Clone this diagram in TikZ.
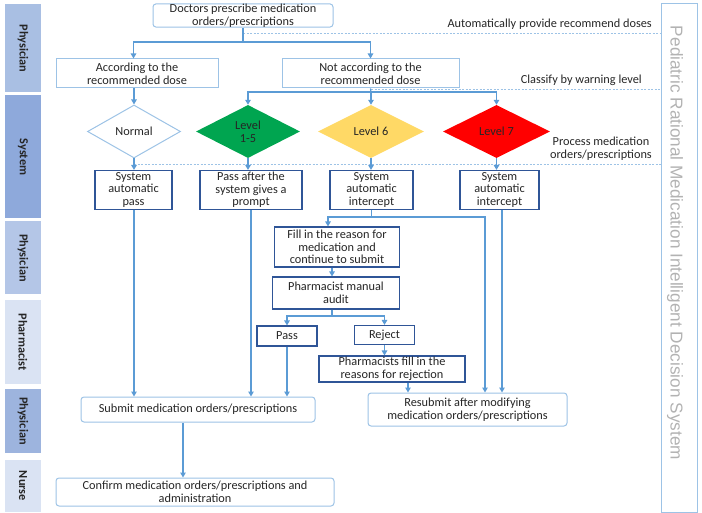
\documentclass[tikz,border=0pt]{standalone}
\usepackage{fontspec}
\setmainfont{Carlito}
\newfontfamily\titlefont{Liberation Sans}
\usetikzlibrary{shapes.geometric,arrows.meta,calc}
\definecolor{lblue}{HTML}{9DC3E6}
\definecolor{abl}{HTML}{5B9BD5}
\definecolor{dblue}{HTML}{2F5597}
\definecolor{laneA}{HTML}{A9BFE3}
\definecolor{laneB}{HTML}{8EA9DB}
\definecolor{laneC}{HTML}{B4C6E7}
\definecolor{laneD}{HTML}{DAE3F3}
\definecolor{laneE}{HTML}{9DB4DE}
\definecolor{lgreen}{HTML}{00A550}
\definecolor{lyellow}{HTML}{FFD966}
\definecolor{lred}{HTML}{FF0000}
\tikzset{
  txt/.style={font=\fontsize{12.3}{12.6}\selectfont, text=black!85},
  lane/.style={fill=#1, draw=none, minimum width=36pt, inner sep=0pt, font=\fontsize{12.3}{13}\selectfont\bfseries, text=black!85},
  softbox/.style={txt, draw=lblue, line width=1pt, rounded corners=3pt, fill=white, align=center, inner sep=0pt},
  lbox/.style={txt, draw=lblue, line width=1pt, fill=white, align=center, inner sep=0pt},
  dbox/.style={txt, draw=dblue, line width=1.1pt, fill=white, align=center, inner sep=0pt},
  dia/.style={txt, diamond, inner sep=0pt, align=center},
  arr/.style={draw=abl, line width=1.2pt, -{Triangle[length=5pt,width=5.5pt]}},
  ln/.style={draw=abl, line width=1.2pt},
  dashsep/.style={draw=lblue, line width=0.9pt, dash pattern=on 2pt off 1.5pt},
  note/.style={txt, align=center, inner sep=0pt},
}
\begin{document}
\begin{tikzpicture}[x=1pt,y=-1pt]
\useasboundingbox (0,0) rectangle (702,513);
% lanes
\node[lane=laneA, minimum height=88pt] (ln1) at (23,48.5) {\rotatebox{-90}{Physician}};
\node[lane=laneB, minimum height=123pt] (ln2) at (23,157) {\rotatebox{-90}{System}};
\node[lane=laneC, minimum height=73pt] (ln3) at (23,258) {\rotatebox{-90}{Physician}};
\node[lane=laneD, minimum height=84pt] (ln4) at (23,342) {\rotatebox{-90}{Pharmacist}};
\node[lane=laneE, minimum height=64pt] (ln5) at (23,421) {\rotatebox{-90}{Physician}};
\node[lane=laneD, minimum height=52pt] (ln6) at (23,486) {\rotatebox{-90}{Nurse}};
% title box
\node[draw=lblue, line width=1pt, minimum width=36pt, minimum height=508pt, inner sep=0pt] (title) at (679,258) {};
\node[text=black!30, font=\titlefont\fontsize{17.2}{18}\selectfont, rotate=-90] (ttext) at (675,243) {Pediatric Rational Medication Intelligent Decision System};
% dashed separators
\draw[dashsep] (243,33) -- (661,33);
\draw[dashsep] (371,89) -- (661,89);
\draw[dashsep] (134,164) -- (661,164);
\node[note, anchor=east] (n1) at (652,24) {Automatically provide recommend doses};
\node[note, anchor=east] (n2) at (642,80) {Classify by warning level};
\node[note, anchor=east] (n3) at (652,149) {Process medication\\orders/prescriptions};
% nodes
\node[softbox, minimum width=180pt, minimum height=23pt] (doc) at (243,15.5) {Doctors prescribe medication\\orders/prescriptions};
\node[lbox, minimum width=162pt, minimum height=29pt] (acc) at (137,73.5) {According to the\\recommended dose};
\node[lbox, minimum width=177pt, minimum height=29pt] (nacc) at (370.5,73.5) {Not according to the\\recommended dose};
\node[dia, draw=lblue, line width=1pt, fill=white, minimum width=93pt, minimum height=53pt] (normal) at (134,131.5) {Normal};
\node[dia, fill=lgreen, minimum width=104pt, minimum height=53pt] (l15) at (248,131.5) {Level\\1-5};
\node[dia, fill=lyellow, minimum width=106pt, minimum height=53pt] (l6) at (371,131.5) {Level 6};
\node[dia, fill=lred, minimum width=107pt, minimum height=53pt] (l7) at (496.5,131.5) {Level 7};
\node[dbox, minimum width=77pt, minimum height=39pt] (sap) at (133.5,190) {System\\automatic\\pass};
\node[dbox, minimum width=102pt, minimum height=39pt] (pap) at (251,190) {Pass after the\\system gives a\\prompt};
\node[dbox, minimum width=83pt, minimum height=39pt] (si6) at (371.5,190) {System\\automatic\\intercept};
\node[dbox, minimum width=79pt, minimum height=39pt] (si7) at (499.5,190) {System\\automatic\\intercept};
\node[dbox, minimum width=125pt, minimum height=40pt] (fill) at (337,247) {Fill in the reason for\\medication and\\continue to submit};
\node[dbox, minimum width=127pt, minimum height=32pt] (pma) at (336,293) {Pharmacist manual\\audit};
\node[dbox, minimum width=60pt, minimum height=20pt] (pass) at (287,336) {Pass};
\node[dbox, minimum width=60pt, minimum height=19pt] (rej) at (384.5,335) {Reject};
\node[dbox, minimum width=146pt, minimum height=26pt] (pfr) at (392,369) {Pharmacists fill in the\\reasons for rejection};
\node[softbox, minimum width=199pt, minimum height=33pt] (resub) at (467.5,409.5) {Resubmit after modifying\\medication orders/prescriptions};
\node[softbox, minimum width=234pt, minimum height=25pt] (submit) at (198,409.5) {Submit medication orders/prescriptions};
\node[softbox, minimum width=278pt, minimum height=28pt] (confirm) at (195,492) {Confirm medication orders/prescriptions and\\administration};
% helper coordinates
\coordinate (j1) at (243,42);
\coordinate (j2) at (371,92);
\coordinate (j3) at (371.5,217);
\coordinate (j4) at (332,316);
\coordinate (c328) at (328,0);
\coordinate (c332) at (332,0);
\coordinate (c485) at (485,0);
\coordinate (c502) at (502,0);
\coordinate (c408) at (408,0);
\coordinate (c183) at (183,0);
% connectors
\draw[ln] (doc.south) -- (j1);
\draw[arr] (j1) -| (acc.north -| sap.north);
\draw[arr] (j1) -| (nacc.north);
\draw[arr] (acc.south -| normal.north) -- (normal.north);
\draw[ln] (nacc.south) -- (j2);
\draw[arr] (j2) -| (l15.north);
\draw[arr] (j2) -- (l6.north);
\draw[arr] (j2) -| (l7.north);
\draw[arr] (normal.south) -- (normal.south |- sap.north);
\draw[arr] (l15.south) -- (l15.south |- pap.north);
\draw[arr] (l6.south) -- (l6.south |- si6.north);
\draw[arr] (l7.south) -- (l7.south |- si7.north);
\draw[ln] (si6.south) -- (j3);
\draw[arr] (j3) -| (fill.north -| c328);
\draw[arr] (j3) -| (resub.north -| c485);
\draw[arr] (si7.south -| c502) -- (resub.north -| c502);
\draw[arr] (fill.south -| c332) -- (pma.north -| c332);
\draw[ln] (pma.south -| c332) -- (j4);
\draw[arr] (j4) -| (pass.north);
\draw[arr] (j4) -| (rej.north);
\draw[arr] (rej.south) -- (rej.south |- pfr.north);
\draw[arr] (pfr.south -| c408) -- (resub.north -| c408);
\draw[arr] (sap.south -| normal.south) -- (submit.north -| normal.south);
\draw[arr] (pap.south) -- (pap.south |- submit.north);
\draw[arr] (pass.south) -- (pass.south |- submit.north);
\draw[arr] (submit.south -| c183) -- (confirm.north -| c183);
\end{tikzpicture}
\end{document}
